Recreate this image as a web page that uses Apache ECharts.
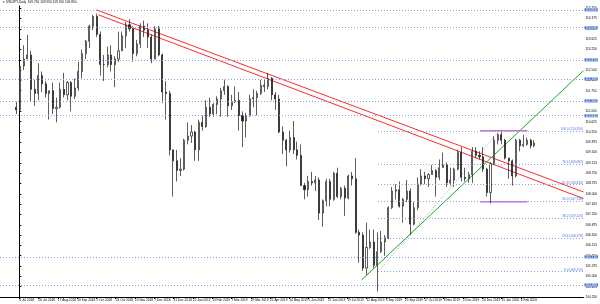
<!DOCTYPE html>
<html><head><meta charset="utf-8">
<script src="https://cdn.jsdelivr.net/npm/echarts@6/dist/echarts.min.js"></script>
<style>html,body{margin:0;padding:0;background:#fff}#c{width:600px;height:304px}</style>
</head><body><div id="c"></div>
<script>
const symbolName = 'USDJPY,Daily';
const opens = [111.15,111.05,112.65,112.90,113.05,111.80,111.65,112.30,112.00,111.65,
111.75,111.10,111.15,111.80,111.60,112.05,111.55,111.85,112.45,113.10,
113.55,114.10,114.45,113.80,112.70,112.70,113.05,112.70,112.90,113.20,
113.75,114.15,114.00,113.10,113.45,114.10,113.95,113.70,112.90,114.00,
113.05,111.70,111.65,109.60,109.20,108.85,108.90,109.95,110.10,110.25,
109.60,110.60,110.45,111.15,110.90,111.25,111.45,111.75,111.90,111.20,
111.35,111.40,110.85,110.65,110.85,111.45,111.50,111.65,111.95,111.90,
112.20,111.60,111.45,110.25,109.95,109.60,110.05,109.60,109.40,108.30,
108.15,108.45,108.40,108.50,107.30,107.75,108.45,107.80,108.75,107.90,
108.20,107.85,108.65,108.55,106.60,106.50,105.30,106.05,106.25,105.40,
105.90,106.25,106.40,107.50,108.10,108.15,107.55,107.80,108.10,106.90,
107.50,108.35,108.65,108.55,108.70,108.85,108.60,108.95,109.05,108.40,
108.50,108.90,109.50,108.60,108.55,108.70,109.55,109.40,109.35,108.90,
108.05,109.10,109.95,110.15,109.95,109.30,109.20,108.65,109.95,109.75,
109.80,109.95,109.75];
const closes = [111.05,112.65,112.90,113.05,111.80,111.65,112.30,112.00,111.65,111.75,
111.10,111.15,111.80,111.60,112.05,111.55,111.85,112.45,113.10,113.55,
114.10,114.45,113.80,112.70,112.70,113.05,112.70,112.90,113.20,113.75,
114.15,114.00,113.10,113.45,114.10,113.95,113.70,112.90,114.00,113.05,
111.70,111.65,109.60,109.20,108.85,108.90,109.95,110.10,110.25,109.60,
110.60,110.45,111.15,110.90,111.25,111.45,111.75,111.90,111.20,111.35,
111.40,110.85,110.65,110.85,111.45,111.50,111.65,111.95,111.90,112.20,
111.60,111.45,110.25,109.95,109.60,110.05,109.60,109.40,108.30,108.15,
108.45,108.40,108.50,107.30,107.75,108.45,107.80,108.75,107.90,108.20,
107.85,108.65,108.55,106.60,106.50,105.30,106.05,106.25,105.40,105.90,
106.25,106.40,107.50,108.10,108.15,107.55,107.80,108.10,106.90,107.50,
108.35,108.65,108.55,108.70,108.85,108.60,108.95,109.05,108.40,108.50,
108.90,109.50,108.60,108.55,108.70,109.55,109.40,109.35,108.90,108.05,
109.10,109.95,110.15,109.95,109.30,109.20,108.65,109.95,109.75,109.80,
109.95,109.75,109.85];
const highs = [111.35,112.70,113.40,113.78,113.20,112.15,112.75,112.45,112.10,111.75,
112.05,111.50,112.05,112.40,112.10,112.10,112.20,112.80,113.25,113.60,
114.15,114.50,114.55,113.90,113.05,113.35,113.40,113.00,113.90,113.90,
114.25,114.35,114.10,113.60,114.20,114.30,114.20,113.80,114.10,114.10,
113.10,112.10,111.75,109.60,109.60,109.30,110.00,110.60,110.50,110.30,
110.70,110.85,111.40,111.50,111.30,111.55,111.85,112.15,111.95,111.60,
111.90,111.70,111.00,110.95,111.60,111.80,111.75,112.15,112.15,112.40,
112.25,111.70,111.60,110.45,110.00,110.30,110.65,109.90,109.80,108.40,
108.65,108.80,108.65,108.60,107.80,108.55,108.55,108.80,108.95,108.25,
108.30,108.70,108.80,109.30,106.70,106.60,106.95,106.70,106.70,106.60,
106.65,106.50,107.55,108.25,108.35,108.45,107.85,108.50,108.20,107.70,
108.60,108.90,108.80,108.75,109.05,108.90,109.25,109.50,109.15,108.95,
108.95,109.60,109.70,108.95,108.80,109.70,109.70,109.55,109.70,108.95,
109.15,110.10,110.20,110.29,110.00,109.30,109.25,110.00,110.00,110.15,
110.05,110.00,109.95];
const lows = [110.90,111.00,112.50,112.90,111.35,111.20,111.40,111.70,111.50,110.70,
110.90,110.60,111.10,111.50,111.40,111.00,111.45,111.75,112.20,112.90,
113.30,113.95,113.70,112.30,112.10,112.60,112.45,111.88,112.80,113.20,
113.30,113.90,112.80,113.00,113.30,113.70,113.30,112.75,112.90,113.00,
111.30,110.70,109.40,107.90,108.45,108.65,108.85,109.80,109.85,109.20,
109.20,110.30,110.40,110.80,110.80,110.90,110.80,111.60,110.80,111.05,
111.30,110.30,109.70,110.05,110.80,111.15,110.85,111.60,111.70,111.80,
111.40,111.05,110.20,109.45,109.00,109.50,109.45,109.25,108.30,107.80,
107.90,108.30,108.10,107.05,106.80,107.55,107.55,107.75,107.85,107.80,
107.20,107.80,108.30,106.55,105.50,105.20,105.05,106.00,105.30,104.45,
105.85,105.75,106.35,107.45,107.80,107.50,106.95,107.70,106.50,106.85,
107.40,108.30,108.35,108.25,108.70,107.90,108.50,108.95,108.25,108.30,
108.25,108.85,108.45,108.45,108.40,108.40,109.30,109.25,108.80,107.90,
107.65,109.05,109.80,109.80,109.25,108.55,108.30,108.60,109.55,109.70,
109.75,109.65,109.70];
const leadEmpty = 4, totalSlots = 160;
const tickDays = [0,16,32,48,64,80,96,112,128,144,160,176,192,208,224,240,256,272,288,304,320,336,352,368,384,400,416];
const tickLabels = ['4 Jul 2018','26 Jul 2018','17 Aug 2018','10 Sep 2018','2 Oct 2018','24 Oct 2018','15 Nov 2018','7 Dec 2018','31 Dec 2018','22 Jan 2019','13 Feb 2019','7 Mar 2019','29 Mar 2019','22 Apr 2019','14 May 2019','5 Jun 2019','27 Jun 2019','19 Jul 2019','12 Aug 2019','3 Sep 2019','25 Sep 2019','17 Oct 2019','8 Nov 2019','2 Dec 2019','24 Dec 2019','15 Jan 2020','6 Feb 2020'];
const hLines = [114.69,114.04,112.87,112.18,111.38,110.84,105.71,104.69];
const fibLevels = ['0.0','23.6','38.2','50.0','61.8','76.4','100.0'];
const fibPrices = [105.170,106.378,107.126,107.730,108.334,109.082,110.290];
const fibAnchor = [[297.6,105.17],[398.4,110.29]];
const redLine1 = [[64,114.69],[468,108.07]];
const redLine2 = [[65.6,114.51],[468,107.83]];
const greenLine = [[284,104.87],[468,112.48]];
const purpleTop = [[382.4,110.29],[421.6,110.29]];
const purpleBottom = [[382.4,107.71],[421.6,107.71]];
const xMinDay = -16, xMaxDay = 468;

const categories = [];
const candleData = [];
for (let j = 0; j < totalSlots; j++) {
  categories.push(String(j));
  const i = j - leadEmpty;
  candleData.push(i >= 0 && i < opens.length ? [opens[i], closes[i], lows[i], highs[i]] : '-');
}
const n = opens.length - 1;
const lastPrice = closes[n];
const headerText = '\u25BE ' + symbolName + '  ' + [opens[n], highs[n], lows[n], closes[n]].map(v => v.toFixed(3)).join(' ');

const FS = 3.2;
const chart = echarts.init(document.getElementById('c'), null, {renderer: 'canvas'});
const lineSeries = (data, color, width, type) => ({
  type: 'line', xAxisIndex: 1, yAxisIndex: 0, data, symbol: 'none', silent: true, animation: false,
  lineStyle: {color, width, type: type || 'solid'}, z: 3
});
chart.setOption({
  animation: false,
  backgroundColor: '#ffffff',
  graphic: [{type: 'text', left: 3, top: 1, style: {text: headerText, fontSize: FS, fill: '#000', fontFamily: 'Liberation Sans'}}],
  grid: {left: -20, right: 15, top: 6, bottom: 7},
  xAxis: [
    {type: 'category', data: categories, position: 'top', show: false, boundaryGap: true},
    {type: 'value', position: 'bottom', min: xMinDay, max: xMaxDay,
     axisLine: {show: true, onZero: false, lineStyle: {color: '#000', width: 1}},
     axisTick: {show: true, customValues: tickDays, length: 2, lineStyle: {color: '#000'}},
     axisLabel: {customValues: tickDays, fontSize: FS, color: '#000', align: 'left', margin: 1.5, fontFamily: 'Liberation Sans',
       formatter: v => { const k = tickDays.indexOf(v); return k >= 0 ? tickLabels[k] : ''; }},
     splitLine: {show: false}}
  ],
  yAxis: {type: 'value', position: 'right', min: 104.25, max: 114.83, interval: 0.375,
    axisLine: {show: true, lineStyle: {color: '#000', width: 1}},
    axisTick: {show: true, length: 2, lineStyle: {color: '#000'}},
    axisLabel: {fontSize: FS, color: '#000', margin: 2, showMaxLabel: false, fontFamily: 'Liberation Sans', formatter: v => v.toFixed(3)},
    splitLine: {show: false}},
  series: [
    {type: 'candlestick', xAxisIndex: 0, yAxisIndex: 0, data: candleData, barWidth: 1.6, silent: true, z: 4,
     itemStyle: {color: '#ffffff', color0: '#1a1a1a', borderColor: '#1a1a1a', borderColor0: '#1a1a1a', borderWidth: 0.7},
     markLine: {silent: true, symbol: ['none', 'none'], animation: false,
       lineStyle: {type: [1, 2], color: '#8a9fe6', width: 1},
       label: {position: 'end', distance: 1, fontSize: FS, color: '#fff', backgroundColor: '#4a6fdc', padding: [0, 1], fontFamily: 'Liberation Sans', formatter: p => p.value.toFixed(3)},
       data: hLines.map(p => ({yAxis: p})).concat([{yAxis: lastPrice, lineStyle: {opacity: 0},
         label: {backgroundColor: '#000', color: '#fff'}}])}},
    Object.assign(lineSeries(fibAnchor, '#9a9a9a', 1, [1, 2]), {
      markLine: {silent: true, symbol: ['none', 'none'], animation: false,
        lineStyle: {type: [1, 2], color: '#8a9fe6', width: 1},
        label: {position: 'insideEndTop', distance: 0.5, fontSize: FS, color: '#4a6fdc', fontFamily: 'Liberation Sans'},
        data: fibPrices.map((p, k) => [{coord: [fibAnchor[0][0], p]}, {coord: [xMaxDay, p], label: {formatter: fibLevels[k] + ' (' + p.toFixed(3) + ')'}}])}}),
    lineSeries(redLine1, '#ff2b2b', 1),
    lineSeries(redLine2, '#ff2b2b', 1),
    lineSeries(greenLine, '#1ea51e', 1),
    lineSeries(purpleTop, '#c873d0', 1.5),
    lineSeries(purpleBottom, '#c873d0', 1.5)
  ]
});
</script></body></html>
